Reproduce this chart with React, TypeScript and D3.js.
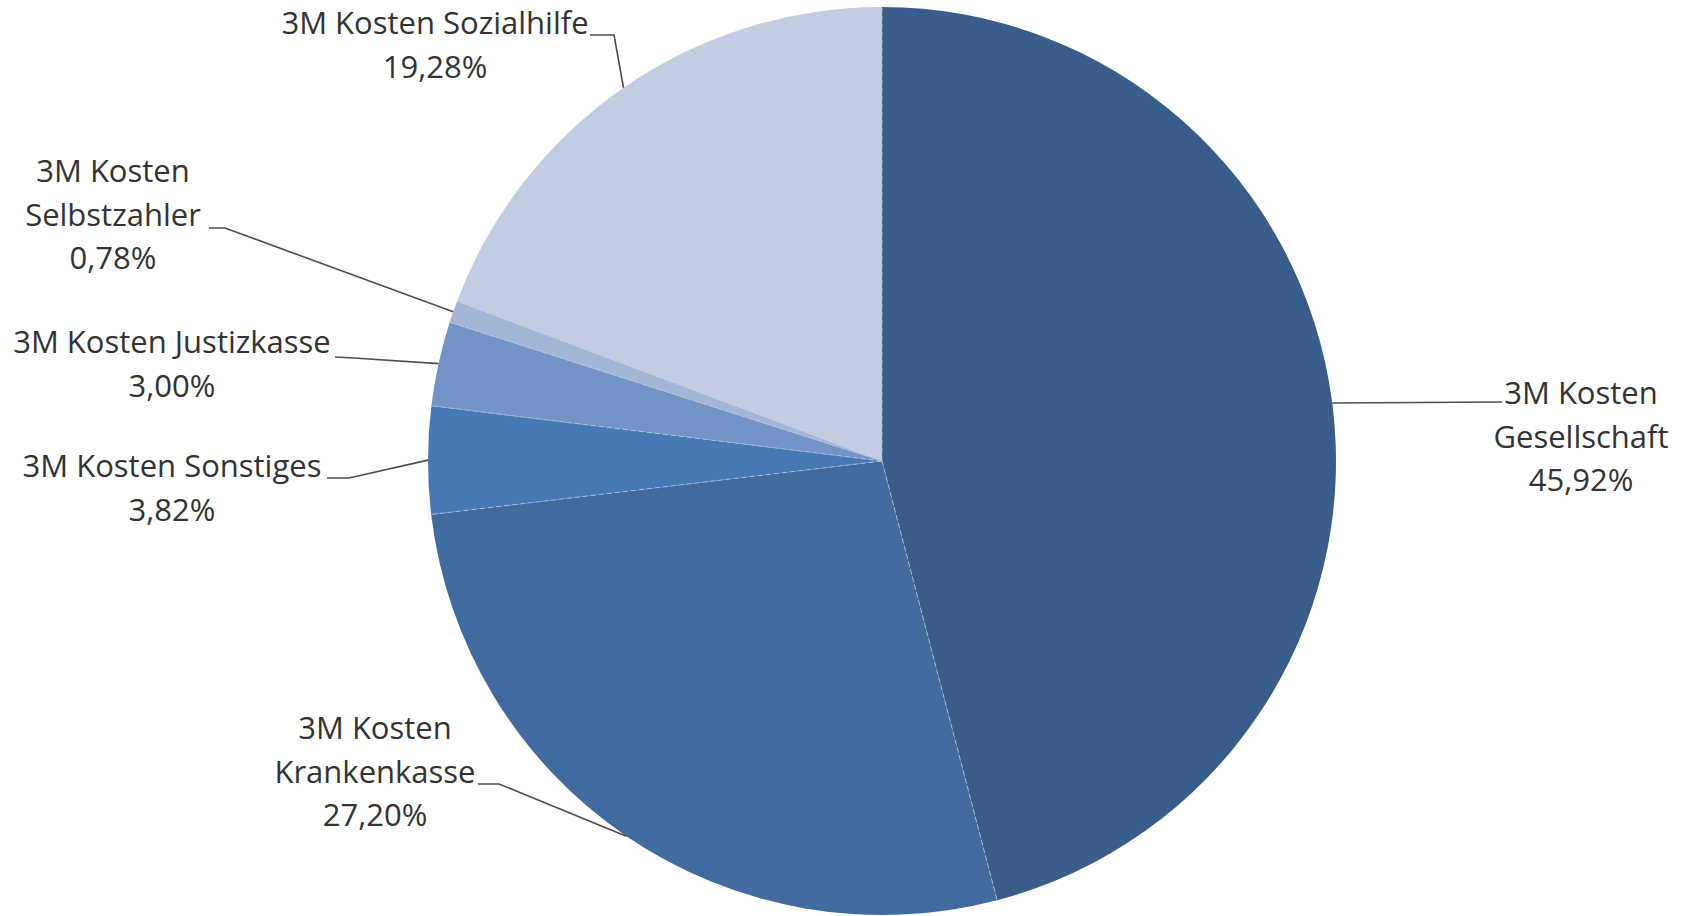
import React from "react";
import * as d3 from "d3";

const categories = [
  "3M Kosten Gesellschaft",
  "3M Kosten Krankenkasse",
  "3M Kosten Sonstiges",
  "3M Kosten Justizkasse",
  "3M Kosten Selbstzahler",
  "3M Kosten Sozialhilfe",
];
const values = [45.92, 27.2, 3.82, 3.0, 0.78, 19.28];
const colors = ["#395D8A", "#416B9F", "#4779B4", "#7394C6", "#A4B6D8", "#C2CDE2"];

// label line breaks (text), percent appended as last line
const labelLines = [
  ["3M Kosten", "Gesellschaft"],
  ["3M Kosten", "Krankenkasse"],
  ["3M Kosten Sonstiges"],
  ["3M Kosten Justizkasse"],
  ["3M Kosten", "Selbstzahler"],
  ["3M Kosten Sozialhilfe"],
];

// layout: label centre x, first line y, leader knee points
const labelLayout = [
  { x: 1581, y: 392, leader: [[1502, 402]] },
  { x: 375, y: 727, leader: [[478, 784], [499, 784]] },
  { x: 172, y: 465, leader: [[327, 478], [349, 478]] },
  { x: 172, y: 341, leader: [[335, 357], [354, 358]] },
  { x: 113, y: 170, leader: [[209, 228], [225, 228]] },
  { x: 435, y: 22, leader: [[590, 35], [614, 35]] },
];

const W = 1683;
const H = 916;
const CX = 882;
const CY = 461;
const R = 454;
const LINE_H = 43.5;

const fmt = (v: number) => d3.format(".2f")(v).replace(".", ",") + "%";

export default function App() {
  const pie = d3
    .pie<number>()
    .sort(null)
    .value((d) => d)
    .startAngle(0)
    .endAngle(2 * Math.PI);
  const arcs = pie(values);
  const arc = d3.arc<d3.PieArcDatum<number>>().innerRadius(0).outerRadius(R);

  return (
    <svg
      width={W}
      height={H}
      style={{ position: "absolute", left: 0, top: 0, background: "#fff" }}
      fontFamily="'Open Sans', sans-serif"
    >
      <g transform={`translate(${CX},${CY})`}>
        {arcs.map((a, i) => (
          <path key={i} d={arc(a) || ""} fill={colors[i]}>
            <title>{categories[i]}</title>
          </path>
        ))}
        {arcs.map((a, i) => (
          <path
            key={"s" + i}
            d={`M0,0L${Math.sin(a.startAngle) * R},${-Math.cos(a.startAngle) * R}`}
            stroke="#B4C4E0"
            strokeWidth={1}
            strokeDasharray="5,3"
            opacity={0.8}
            fill="none"
          />
        ))}
      </g>
      {arcs.map((a, i) => {
        const mid = (a.startAngle + a.endAngle) / 2;
        const px = CX + Math.sin(mid) * R;
        const py = CY - Math.cos(mid) * R;
        const pts = [...labelLayout[i].leader, [px, py]];
        const line = d3.line()(pts as [number, number][]);
        return (
          <path key={"l" + i} d={line || ""} stroke="#4d4d4d" strokeWidth={1.6} fill="none" />
        );
      })}
      {arcs.map((a, i) => {
        const lines = [...labelLines[i], fmt(values[i])];
        const L = labelLayout[i];
        return (
          <text
            key={"t" + i}
            textAnchor="middle"
            fontSize={31}
            fill="#333"
            dominantBaseline="central"
          >
            {lines.map((s, j) => (
              <tspan key={j} x={L.x} y={L.y + j * LINE_H}>
                {s}
              </tspan>
            ))}
          </text>
        );
      })}
    </svg>
  );
}
